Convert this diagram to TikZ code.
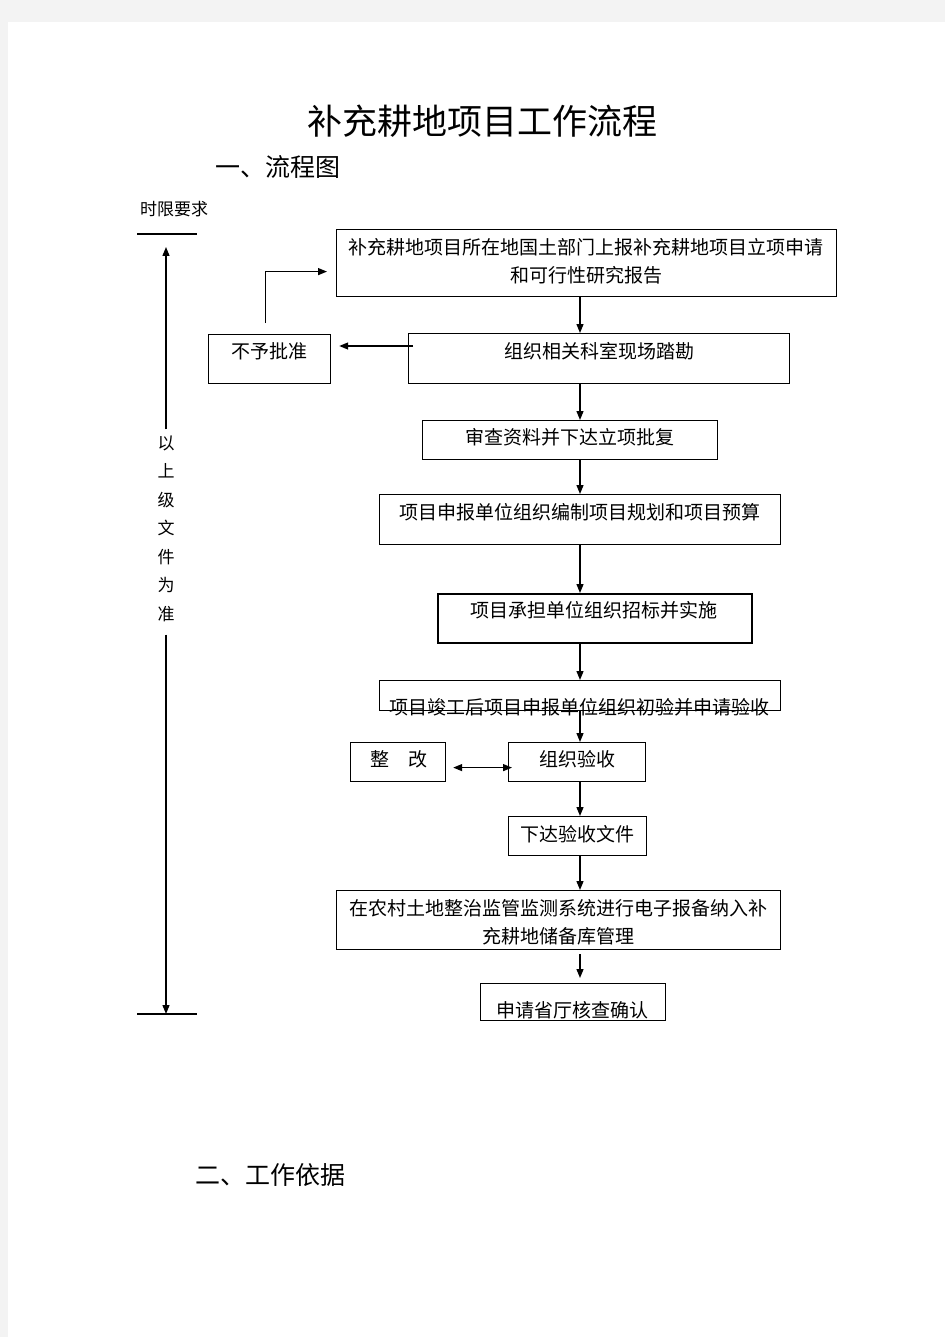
\documentclass[tikz,border=0pt]{standalone}
\usepackage{fontspec}
\newfontfamily\cjk{Noto Sans CJK SC}
\usetikzlibrary{arrows.meta,calc}
\definecolor{pagegray}{HTML}{F3F3F3}
\begin{document}
\begin{tikzpicture}[x=1pt,y=-1pt,
  box/.style={draw=black,line width=1.2pt,inner sep=0pt,anchor=north west},
  txt/.style={font=\cjk\fontsize{19}{28}\selectfont,inner sep=0pt,align=center},
  small/.style={font=\cjk\fontsize{17}{28.5}\selectfont,inner sep=0pt,align=center},
  head/.style={font=\cjk\fontsize{25}{30}\selectfont,inner sep=0pt},
  arr/.style={-{Triangle[length=9pt,width=7pt]},line width=1.3pt},
  dbl/.style={{Triangle[length=9pt,width=7pt]}-{Triangle[length=9pt,width=7pt]},line width=1.3pt},
  plain/.style={line width=1.2pt}]
% page
\fill[pagegray] (0,0) rectangle (945,1337);
\fill[white] (8,22) rectangle (945,1337);
\useasboundingbox (0,0) rectangle (945,1337);

% headings
\node[font=\cjk\fontsize{35}{40}\selectfont,inner sep=0pt] (title) at (482,121) {补充耕地项目工作流程};
\node[head] (h1) at (277.5,167) {一、流程图};
\node[head] (h2) at (270,1175) {二、工作依据};

% timeline
\node[small] (tl) at (174,209) {时限要求};
\coordinate (la) at (137,234); \coordinate (lb) at (197,234);
\coordinate (lc) at (137,1014); \coordinate (ld) at (197,1014);
\draw[plain] (la) -- (lb);
\draw[plain] (lc) -- (ld);
\node[small] (vt) at (166,528.5) {以\\上\\级\\文\\件\\为\\准};
\coordinate (tt) at (166,247); \coordinate (tb) at (166,1014);
\draw[arr] ($(vt.north)+(0,-6)$) -- (tt);
\draw[arr] ($(vt.south)+(0,13)$) -- (tb);

% boxes
\node[box,minimum width=500pt,minimum height=67pt] (b1) at (336,229) {};
\node[txt] (t1) at (586,261) {补充耕地项目所在地国土部门上报补充耕地项目立项申请\\和可行性研究报告};

\node[box,minimum width=381pt,minimum height=50pt] (b2) at (408,333) {};
\node[txt] (t2) at (599,351) {组织相关科室现场踏勘};

\node[box,minimum width=122pt,minimum height=49pt] (n1) at (208,334) {};
\node[txt] (tn1) at (269,351) {不予批准};

\node[box,minimum width=295pt,minimum height=39pt] (b3) at (422,420) {};
\node[txt] (t3) at (570,437) {审查资料并下达立项批复};

\node[box,minimum width=401pt,minimum height=50pt] (b4) at (379,494) {};
\node[txt] (t4) at (579.5,512) {项目申报单位组织编制项目规划和项目预算};

\node[box,line width=1.8pt,minimum width=314pt,minimum height=49pt] (b5) at (437,593) {};
\node[txt] (t5) at (594,610) {项目承担单位组织招标并实施};

\node[box,minimum width=401pt,minimum height=30pt] (b6) at (379,680) {};
\node[txt] (t6) at (579,707) {项目竣工后项目申报单位组织初验并申请验收};

\node[box,minimum width=137pt,minimum height=39pt] (b7) at (508,742) {};
\node[txt] (t7) at (577,759) {组织验收};

\node[box,minimum width=95pt,minimum height=39pt] (zg) at (350,742) {};
\node[txt] (tzg) at (398.5,759) {整\hspace{1em}改};

\node[box,minimum width=138pt,minimum height=39pt] (b8) at (508,816) {};
\node[txt] (t8) at (577,834) {下达验收文件};

\node[box,minimum width=444pt,minimum height=59pt] (b9) at (336,890) {};
\node[txt] (t9) at (558,922.5) {在农村土地整治监管监测系统进行电子报备纳入补\\充耕地储备库管理};

\node[box,minimum width=185pt,minimum height=37pt] (b10) at (480,983) {};
\node[txt] (t10) at (572,1010) {申请省厅核查确认};

% connectors
\coordinate (cx) at (580,0);
\draw[arr] (b1.south -| cx) -- (b2.north -| cx);
\draw[arr] (b2.south -| cx) -- (b3.north -| cx);
\draw[arr] (b3.south -| cx) -- (b4.north -| cx);
\draw[arr] (b4.south -| cx) -- (b5.north -| cx);
\draw[arr] (b5.south -| cx) -- (b6.north -| cx);
\draw[arr] (b6.south -| cx) -- (b7.north -| cx);
\draw[arr] (b7.south -| cx) -- (b8.north -| cx);
\draw[arr] (b8.south -| cx) -- (b9.north -| cx);
\draw[arr] ($(b9.south -| cx)+(0,4)$) -- ($(b10.north -| cx)+(0,-5)$);
\draw[arr] ($(b2.north west)+(5,13)$) -- ($(n1.north east)+(8,12)$);
\draw[arr] ($(n1.north)+(-4,-11)$) |- ($(b1.west)+(-9,8.5)$);
\draw[dbl] ($(zg.east)+(7,5.5)$) -- ($(b7.west)+(4,5.5)$);
\end{tikzpicture}
\end{document}
